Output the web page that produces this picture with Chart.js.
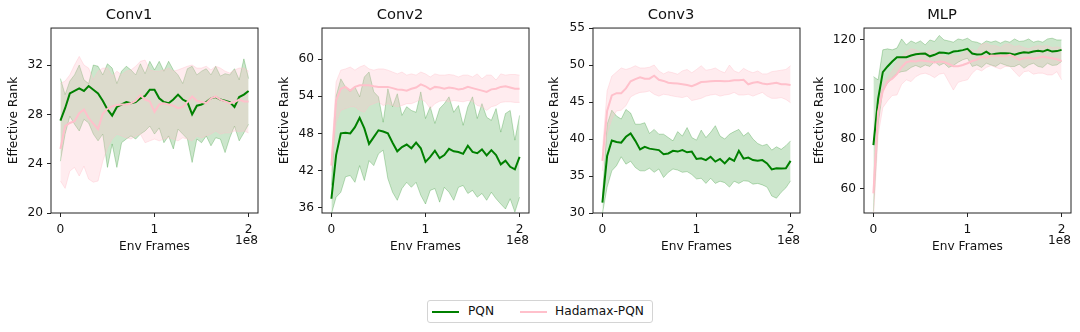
<!DOCTYPE html>
<html>
<head>
<meta charset="utf-8">
<script src="https://cdn.jsdelivr.net/npm/chart.js@4"></script>
<style>
  body { margin: 0; background: #fff; width: 1080px; height: 332px; position: relative; overflow: hidden; font-family: 'DejaVu Sans', sans-serif; }
  .panel { position: absolute; top: 0; width: 268px; height: 260px; }
  #legend { position: absolute; left: 427px; top: 300px; width: 224px; height: 21px; border: 1px solid #d4d4d4; border-radius: 3px; font-size: 12.2px; color: #111; }
  #legend .sw { position: absolute; top: 10px; width: 27px; height: 2px; }
  #legend .lb { position: absolute; top: 3px; white-space: nowrap; }
</style>
</head>
<body>
<div class="panel" style="left:0px"><canvas id="conv1"></canvas></div>
<div class="panel" style="left:271px"><canvas id="conv2"></canvas></div>
<div class="panel" style="left:542px"><canvas id="conv3"></canvas></div>
<div class="panel" style="left:813px"><canvas id="mlp"></canvas></div>
<div id="legend">
  <span class="sw" style="left:4px;background:#008000"></span><span class="lb" style="left:40px">PQN</span>
  <span class="sw" style="left:92px;background:#ffc0cb"></span><span class="lb" style="left:127px">Hadamax-PQN</span>
</div>
<script>
// env frames, in units of 1e8
const frames = [0, 0.05, 0.1, 0.15, 0.2, 0.25, 0.3, 0.35, 0.4, 0.45, 0.5, 0.55, 0.6, 0.65, 0.7, 0.75, 0.8, 0.85, 0.9, 0.95,
  1, 1.05, 1.1, 1.15, 1.2, 1.25, 1.3, 1.35, 1.4, 1.45, 1.5, 1.55, 1.6, 1.65, 1.7, 1.75, 1.8, 1.85, 1.9, 1.95, 2];
const xTicks = [0, 1, 2];

// Conv1
const conv1PqnMean = [27.5, 28.5, 29.7, 29.9, 30.1, 29.9, 30.3, 30.0, 29.7, 29.1, 28.4, 27.9, 28.6, 28.8, 29.0, 28.9, 29.0, 29.3, 29.5, 30.0, 30.0, 29.3, 29.0, 28.9, 29.2, 29.6, 29.2, 29.0, 28.0, 28.7, 28.8, 29.0, 29.3, 29.4, 29.2, 29.1, 29.0, 28.6, 29.4, 29.6, 29.9];
const conv1PqnHigh = [30.9, 29.6, 30.7, 31.2, 32.0, 30.8, 30.5, 32.0, 31.9, 31.2, 32.1, 31.75, 30.5, 31.5, 31.9, 31.6, 31.2, 32.1, 31.3, 32.3, 31.6, 32.3, 31.5, 32.3, 31.6, 31.2, 30.5, 31.7, 31.9, 31.2, 31.5, 31.7, 31.2, 31.9, 31.1, 31.3, 31.2, 31.7, 30.8, 32.5, 30.9];
const conv1PqnLow = [24.2, 26.4, 27.85, 27.2, 26.65, 27.6, 27.3, 26.4, 25.85, 26.4, 23.7, 25.6, 23.7, 25.7, 26.0, 26.25, 26.0, 26.4, 26.65, 27.05, 26.4, 26.9, 25.7, 26.25, 25.2, 26.8, 26.4, 26.0, 24.1, 26.0, 25.7, 26.25, 25.45, 26.1, 26.0, 24.9, 26.1, 27.05, 25.85, 26.5, 27.2];
const conv1HadMean = [25.2, 27.05, 27.3, 27.45, 28.1, 28.4, 27.7, 27.25, 26.8, 28.05, 28.45, 28.65, 28.75, 28.8, 28.8, 28.9, 29.1, 29.55, 29.2, 29.05, 28.2, 28.8, 28.9, 28.8, 28.7, 28.5, 28.6, 29.0, 29.45, 29.1, 29.0, 28.9, 29.3, 29.45, 29.2, 29.05, 28.9, 29.0, 29.2, 29.05, 29.05];
const conv1HadHigh = [30.5, 30.7, 31.2, 32.0, 32.7, 32.0, 31.75, 30.8, 31.5, 31.75, 31.75, 31.1, 31.5, 31.2, 31.5, 31.6, 31.9, 32.3, 32.4, 31.6, 31.5, 31.5, 31.6, 31.75, 31.5, 31.6, 31.75, 31.9, 32.0, 31.75, 31.75, 31.9, 31.6, 31.9, 31.75, 31.5, 31.35, 31.6, 31.75, 31.75, 31.5];
const conv1HadLow = [22.6, 22.0, 23.4, 23.7, 23.0, 23.8, 22.75, 22.5, 22.6, 24.2, 25.3, 26.0, 26.4, 26.25, 26.1, 26.0, 26.25, 26.4, 25.7, 25.85, 26.0, 25.85, 26.0, 26.1, 26.0, 25.85, 26.1, 26.0, 25.85, 26.25, 26.1, 26.25, 26.4, 26.65, 26.4, 26.5, 26.5, 26.65, 26.6, 26.65, 26.5];
const conv1Ticks = [20, 24, 28, 32];

// Conv2
const conv2PqnMean = [37.45, 44.5, 48.0, 48.1, 48.0, 49.0, 50.5, 48.8, 46.3, 47.4, 48.5, 48.3, 48.0, 46.5, 45.1, 45.8, 46.2, 45.6, 46.5, 45.6, 43.4, 44.2, 45.2, 44.0, 44.5, 45.5, 45.1, 45.0, 44.7, 46.0, 45.0, 44.8, 45.4, 44.45, 45.3, 44.5, 43.0, 43.6, 42.6, 42.2, 44.2];
const conv2PqnHigh = [39.6, 54.0, 56.8, 55.5, 54.7, 55.5, 53.9, 57.1, 57.9, 54.7, 53.9, 49.8, 55.2, 52.3, 54.4, 50.9, 52.3, 51.7, 51.4, 54.7, 50.4, 52.3, 49.6, 52.0, 52.8, 53.9, 51.4, 52.5, 49.3, 52.3, 53.9, 50.4, 52.8, 50.6, 50.1, 52.0, 48.2, 51.2, 51.7, 46.9, 50.9];
const conv2PqnLow = [35.0, 37.7, 38.5, 41.0, 41.2, 40.1, 42.8, 40.4, 43.6, 42.8, 44.7, 45.3, 40.7, 38.5, 37.2, 39.1, 40.1, 39.3, 40.1, 38.0, 36.6, 38.8, 39.1, 36.9, 39.3, 38.5, 37.2, 39.3, 39.6, 38.3, 38.8, 37.7, 38.3, 37.2, 38.5, 37.45, 36.6, 35.8, 37.45, 35.3, 37.7];
const conv2HadMean = [42.8, 53.3, 55.2, 55.5, 54.9, 55.5, 55.75, 55.75, 55.75, 55.6, 55.5, 55.5, 55.5, 55.3, 55.1, 55.05, 54.9, 55.2, 55.4, 55.9, 55.6, 55.1, 55.5, 55.4, 55.2, 55.4, 55.3, 55.1, 55.2, 55.5, 55.3, 55.1, 54.9, 54.7, 55.1, 55.2, 55.5, 55.6, 55.4, 55.2, 55.2];
const conv2HadHigh = [43.9, 56.3, 58.2, 58.4, 58.7, 58.2, 58.7, 59.0, 58.4, 58.2, 58.4, 58.4, 58.2, 57.9, 57.6, 57.9, 57.4, 57.6, 57.4, 57.9, 57.6, 57.1, 57.6, 57.4, 57.4, 57.5, 57.4, 57.1, 57.4, 57.4, 57.1, 57.6, 56.8, 57.4, 57.4, 56.6, 57.6, 57.4, 57.5, 57.5, 57.4];
const conv2HadLow = [41.8, 49.8, 51.7, 52.0, 52.3, 52.3, 51.7, 51.4, 52.5, 52.8, 53.1, 52.5, 52.8, 52.5, 52.3, 52.5, 52.8, 52.8, 53.1, 53.5, 53.1, 52.0, 52.8, 53.2, 53.3, 53.1, 53.3, 53.2, 53.1, 53.3, 53.2, 52.5, 52.3, 51.7, 52.3, 52.5, 53.0, 53.1, 53.1, 53.0, 53.0];
const conv2Ticks = [36, 42, 48, 54, 60];

// Conv3
const conv3PqnMean = [31.4, 37.7, 39.8, 39.6, 39.5, 40.3, 40.75, 39.75, 38.6, 38.95, 38.7, 38.6, 38.5, 37.95, 38.05, 38.4, 38.3, 38.5, 38.2, 38.3, 37.3, 37.4, 37.15, 37.6, 36.95, 37.3, 36.7, 37.4, 37.05, 38.4, 37.35, 37.5, 37.15, 37.05, 37.15, 36.7, 35.9, 36.05, 36.0, 36.05, 37.05];
const conv3PqnHigh = [32.1, 42.0, 43.9, 43.1, 42.7, 44.0, 43.5, 42.0, 42.0, 42.2, 40.75, 41.3, 40.65, 40.65, 40.2, 39.75, 41.0, 40.4, 41.55, 40.2, 39.85, 41.2, 40.2, 40.9, 41.8, 40.4, 40.0, 40.65, 41.0, 41.3, 40.4, 40.9, 40.0, 39.4, 39.1, 39.3, 38.5, 38.95, 38.6, 39.1, 39.75];
const conv3PqnLow = [29.9, 33.5, 35.7, 36.4, 37.6, 36.6, 37.0, 36.15, 35.7, 35.7, 36.05, 35.5, 35.95, 34.8, 35.5, 35.95, 35.8, 35.5, 35.6, 35.2, 34.6, 34.7, 34.0, 34.7, 34.0, 34.3, 34.1, 33.5, 34.3, 34.0, 34.35, 34.3, 33.9, 34.0, 33.8, 33.5, 32.3, 32.0, 32.8, 33.4, 34.35];
const conv3HadMean = [37.05, 43.8, 45.9, 46.2, 46.2, 46.85, 47.8, 48.1, 48.35, 48.15, 48.15, 48.55, 48.0, 47.85, 47.6, 47.55, 47.5, 47.4, 47.3, 47.15, 47.4, 47.7, 47.75, 47.8, 47.85, 47.85, 47.8, 47.85, 47.95, 47.95, 48.0, 47.4, 47.6, 47.7, 47.5, 47.4, 47.5, 47.6, 47.4, 47.4, 47.3];
const conv3HadHigh = [38.4, 46.5, 48.5, 49.05, 49.6, 49.4, 49.6, 49.9, 49.6, 49.6, 49.7, 50.0, 49.2, 48.8, 49.1, 48.95, 48.75, 49.2, 49.4, 48.95, 49.4, 49.9, 49.3, 49.4, 49.6, 49.2, 48.95, 50.0, 49.2, 48.95, 49.55, 49.2, 48.95, 49.2, 48.8, 48.8, 49.1, 49.2, 49.3, 49.4, 49.9];
const conv3HadLow = [35.7, 40.65, 42.7, 43.8, 43.9, 44.5, 45.7, 46.05, 46.3, 46.35, 46.5, 46.05, 45.8, 46.05, 45.95, 45.8, 45.7, 45.6, 45.8, 45.2, 45.35, 45.5, 45.8, 45.95, 46.05, 45.8, 45.95, 46.05, 46.3, 45.95, 45.95, 46.05, 45.8, 46.05, 46.3, 45.8, 45.5, 45.5, 45.6, 45.35, 44.9];
const conv3Ticks = [30, 35, 40, 45, 50, 55];

// MLP
const mlpPqnMean = [77.6, 96.2, 107.0, 109.3, 111.3, 113.0, 113.0, 113.0, 113.7, 114.2, 114.4, 114.5, 113.4, 114.0, 114.9, 114.8, 114.5, 115.3, 115.5, 115.9, 116.4, 114.5, 114.1, 114.2, 115.3, 114.0, 114.4, 114.6, 114.6, 114.5, 114.0, 114.6, 115.0, 114.8, 115.3, 115.6, 115.3, 116.0, 115.3, 115.5, 116.0];
const mlpPqnHigh = [105.2, 103.9, 116.0, 116.4, 116.0, 116.7, 120.4, 118.0, 119.6, 118.7, 119.6, 118.0, 120.0, 119.4, 121.8, 120.0, 119.6, 119.1, 120.4, 120.0, 120.7, 119.4, 119.1, 118.3, 119.6, 119.1, 119.6, 118.7, 119.6, 119.1, 120.4, 119.4, 119.6, 120.4, 119.1, 119.6, 119.1, 120.4, 120.7, 120.0, 120.0];
const mlpPqnLow = [50.7, 85.7, 99.8, 102.5, 104.8, 106.6, 107.2, 107.5, 108.9, 109.7, 108.9, 109.9, 109.3, 111.3, 109.7, 110.6, 108.9, 109.7, 111.0, 112.0, 112.6, 109.3, 109.9, 108.9, 110.6, 109.9, 109.3, 110.6, 109.9, 109.3, 109.3, 110.2, 108.6, 109.9, 110.6, 109.3, 108.9, 110.6, 109.7, 109.9, 111.3];
const mlpHadMean = [58.1, 91.1, 99.4, 103.2, 104.4, 106.2, 109.0, 111.0, 111.5, 111.3, 111.8, 111.5, 111.3, 110.9, 111.3, 111.1, 110.3, 109.4, 109.4, 109.9, 110.6, 111.5, 112.1, 113.2, 112.8, 113.7, 113.6, 113.6, 113.4, 114.0, 113.2, 112.0, 112.6, 112.9, 112.4, 112.8, 113.3, 112.9, 112.6, 112.2, 111.5];
const mlpHadHigh = [62.8, 93.8, 102.9, 104.8, 107.5, 111.0, 113.3, 115.3, 116.4, 116.0, 115.0, 115.0, 115.9, 115.6, 115.0, 113.3, 113.3, 114.2, 113.3, 114.6, 116.0, 116.0, 115.6, 118.3, 118.7, 117.7, 117.7, 116.9, 118.3, 118.3, 117.3, 117.7, 116.9, 116.4, 117.2, 117.7, 117.5, 117.7, 116.9, 117.2, 116.7];
const mlpHadLow = [48.0, 81.7, 92.7, 95.4, 97.6, 97.8, 102.1, 103.9, 103.2, 105.2, 106.2, 106.6, 105.9, 104.8, 106.2, 106.6, 103.2, 99.8, 102.9, 103.5, 103.9, 106.6, 108.3, 107.5, 108.9, 109.7, 108.9, 108.3, 109.3, 109.3, 107.2, 105.2, 107.2, 107.5, 106.2, 106.6, 106.6, 105.9, 105.9, 107.2, 103.9];
const mlpTicks = [60, 80, 100, 120];

Chart.defaults.font.family = "'DejaVu Sans', sans-serif";
Chart.defaults.color = '#111';

const GREEN = '#008000';
const PINK = '#ffc0cb';

function pts(arr) {
  return arr.map((v, i) => ({x: frames[i], y: v}));
}

// bands go under both lines (like matplotlib's zorder), pink drawn over green
function series(mean, low, high, color, bandFill, bandEdge, bandOrder, lineOrder) {
  return [
    {data: pts(low), borderColor: bandEdge, borderWidth: 1, pointRadius: 0, fill: false, order: bandOrder},
    {data: pts(high), borderColor: bandEdge, borderWidth: 1, pointRadius: 0, fill: '-1', backgroundColor: bandFill, order: bandOrder},
    {data: pts(mean), borderColor: color, borderWidth: 2, pointRadius: 0, fill: false, order: lineOrder}
  ];
}

// axes box on all four sides plus the 1e8 offset text
const framePlugin = {
  id: 'frame',
  afterDraw(chart) {
    const {ctx, chartArea: a} = chart;
    ctx.save();
    ctx.strokeStyle = '#222';
    ctx.lineWidth = 1;
    ctx.strokeRect(a.left, a.top, a.right - a.left, a.bottom - a.top);
    ctx.fillStyle = '#111';
    ctx.font = "12.2px 'DejaVu Sans'";
    ctx.textAlign = 'right';
    ctx.textBaseline = 'middle';
    ctx.fillText('1e8', a.right, 241);
    ctx.restore();
  }
};

function drawPanel(id, title, yMin, yMax, yTicks, yTitlePad, pqn, had) {
  new Chart(document.getElementById(id), {
    type: 'line',
    data: {
      datasets: [
        ...series(pqn[0], pqn[1], pqn[2], GREEN, 'rgba(0,128,0,0.2)', 'rgba(0,128,0,0.25)', 4, 2),
        ...series(had[0], had[1], had[2], PINK, 'rgba(255,192,203,0.3)', 'rgba(255,192,203,0.4)', 3, 1)
      ]
    },
    plugins: [framePlugin],
    options: {
      responsive: true,
      maintainAspectRatio: false,
      animation: false,
      layout: {padding: {left: 0, right: 10, top: 0, bottom: 0}},
      elements: {line: {tension: 0}},
      plugins: {
        legend: {display: false},
        tooltip: {enabled: false},
        title: {display: true, text: title, color: '#111', font: {size: 14.7, weight: 'normal'}, padding: {top: 6, bottom: 4.4}}
      },
      scales: {
        x: {
          type: 'linear',
          min: -0.1,
          max: 2.1,
          afterBuildTicks: s => { s.ticks = xTicks.map(v => ({value: v})); },
          afterFit: s => { s.height = 47; },
          border: {display: false},
          grid: {drawOnChartArea: false, drawTicks: true, tickLength: 4, color: '#222'},
          ticks: {maxRotation: 0, padding: 6, font: {size: 12.2}},
          title: {display: true, text: 'Env Frames', font: {size: 12.2}, padding: {top: 0, bottom: 5.7}}
        },
        y: {
          min: yMin,
          max: yMax,
          afterBuildTicks: s => { s.ticks = yTicks.map(v => ({value: v})); },
          afterFit: s => { s.width = 51; },
          border: {display: false},
          grid: {drawOnChartArea: false, drawTicks: true, tickLength: 4, color: '#222'},
          ticks: {padding: 4, font: {size: 12.2}},
          title: {display: true, text: 'Effective Rank', font: {size: 12.2}, padding: {top: yTitlePad, bottom: 0}}
        }
      }
    }
  });
}

drawPanel('conv1', 'Conv1', 20, 35, conv1Ticks, 6.7,
  [conv1PqnMean, conv1PqnLow, conv1PqnHigh], [conv1HadMean, conv1HadLow, conv1HadHigh]);
drawPanel('conv2', 'Conv2', 35.15, 65, conv2Ticks, 6.7,
  [conv2PqnMean, conv2PqnLow, conv2PqnHigh], [conv2HadMean, conv2HadLow, conv2HadHigh]);
drawPanel('conv3', 'Conv3', 30, 55, conv3Ticks, 5.7,
  [conv3PqnMean, conv3PqnLow, conv3PqnHigh], [conv3HadMean, conv3HadLow, conv3HadHigh]);
drawPanel('mlp', 'MLP', 50.2, 124.8, mlpTicks, 0,
  [mlpPqnMean, mlpPqnLow, mlpPqnHigh], [mlpHadMean, mlpHadLow, mlpHadHigh]);
</script>
</body>
</html>
